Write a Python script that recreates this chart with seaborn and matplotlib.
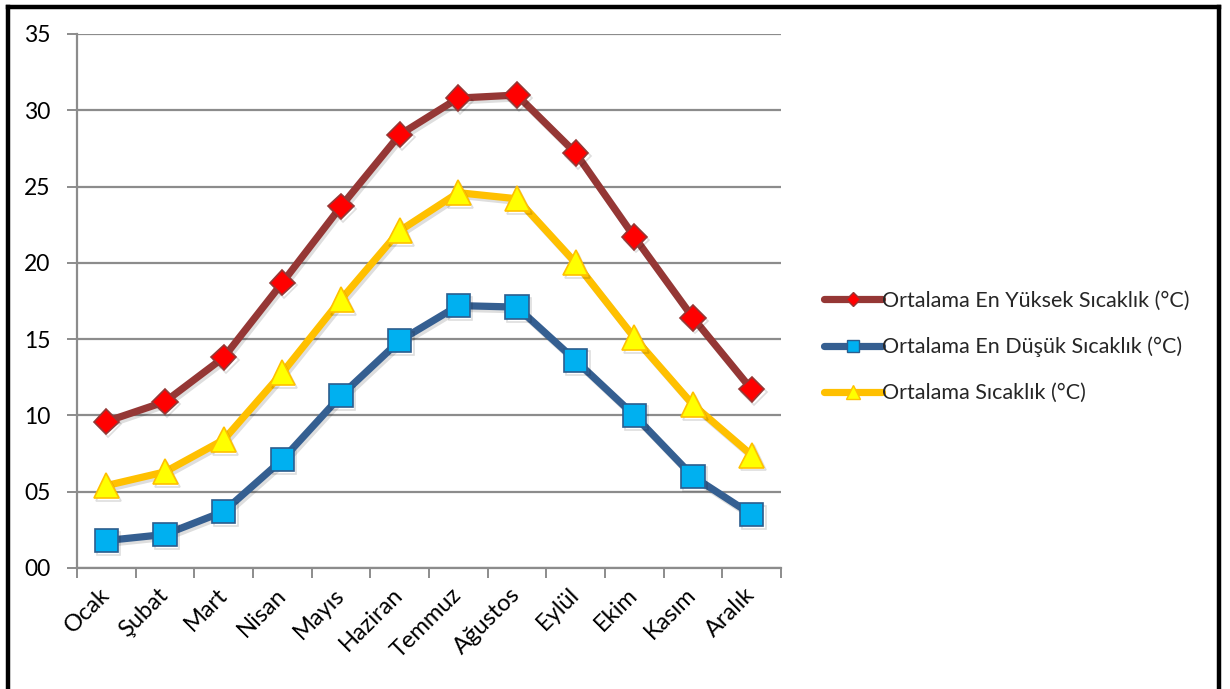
import matplotlib
matplotlib.use("Agg")
import matplotlib.pyplot as plt
import matplotlib.patheffects as pe
from matplotlib.lines import Line2D
import seaborn as sns
import numpy as np

months = ["Ocak", "Şubat", "Mart", "Nisan", "Mayıs", "Haziran",
          "Temmuz", "Ağustos", "Eylül", "Ekim", "Kasım", "Aralık"]
max_temp = [9.6, 10.9, 13.8, 18.7, 23.7, 28.4, 30.8, 31.0, 27.2, 21.7, 16.4, 11.7]
min_temp = [1.8, 2.2, 3.7, 7.1, 11.3, 14.9, 17.2, 17.1, 13.6, 10.0, 6.0, 3.5]
avg_temp = [5.4, 6.3, 8.4, 12.8, 17.6, 22.1, 24.6, 24.2, 20.0, 15.1, 10.7, 7.4]
series_labels = ["Ortalama En Yüksek Sıcaklık (°C)",
                 "Ortalama En Düşük Sıcaklık (°C)",
                 "Ortalama Sıcaklık (°C)"]
y_ticks = [0, 5, 10, 15, 20, 25, 30, 35]

sns.set_theme(style="white")
plt.rcParams["font.family"] = ["Lato", "DejaVu Sans"]

fig = plt.figure(figsize=(12.30, 6.89), dpi=100)
ax = fig.add_axes([77 / 1230, 1 - 568 / 689, (781 - 77) / 1230, (568 - 34) / 689])

x = np.arange(len(months))
styles = [
    dict(color="#953735", marker="D", mfc="#FF0000", mec="#953735", ms=13),
    dict(color="#355F91", marker="s", mfc="#00B0F0", mec="#2C5D8E", ms=17),
    dict(color="#FFC000", marker="^", mfc="#FFFF00", mec="#FFC000", ms=18),
]
shadow = [pe.SimpleLineShadow(offset=(1.5, -2), alpha=0.13, shadow_color="black"),
          pe.Normal()]
for vals, st in zip([max_temp, min_temp, avg_temp], styles):
    sns.lineplot(x=x, y=vals, ax=ax, color=st["color"], linewidth=5.2,
                 marker=st["marker"], markersize=st["ms"],
                 markerfacecolor=st["mfc"], markeredgecolor=st["mec"],
                 markeredgewidth=1.2, zorder=3, legend=False,
                 path_effects=shadow)

ax.set_xlim(-0.5, len(months) - 0.5)
ax.set_ylim(0, 35)
ax.set_yticks(y_ticks)
ax.set_yticklabels([f"{v:02d}" for v in y_ticks], fontsize=16.5, color="black")
ax.yaxis.grid(True, color="#8C8C8C", linewidth=1.6)
ax.set_axisbelow(True)

ax.set_xticks(x)
ax.set_xticklabels(months, rotation=45, ha="right", va="center",
                   rotation_mode="anchor", fontsize=17, color="black")
ax.set_xticks(np.arange(-0.5, len(months)), minor=True)
ax.tick_params(axis="x", which="major", length=0, pad=17)
ax.tick_params(axis="x", which="minor", length=7, width=1.4, color="#8C8C8C",
               direction="out", bottom=True)
ax.tick_params(axis="y", length=7, width=1.4, color="#8C8C8C", direction="out",
               left=True, pad=12)

for side in ["top", "right"]:
    ax.spines[side].set_visible(False)
for side in ["left", "bottom"]:
    ax.spines[side].set_color("#8C8C8C")
    ax.spines[side].set_linewidth(1.6)
ax.set_xlabel("")
ax.set_ylabel("")

handles = [Line2D([0], [0], color=st["color"], linewidth=5.2,
                  solid_capstyle="round", marker=st["marker"],
                  markersize=st["ms"] * 0.55, markerfacecolor=st["mfc"],
                  markeredgecolor=st["mec"], markeredgewidth=1)
           for st in styles]
fig.legend(handles, series_labels, loc="center left",
           bbox_to_anchor=(815 / 1230, 1 - 347 / 689), frameon=False,
           fontsize=15.5, handlelength=2.7, handletextpad=0.0,
           labelspacing=1.2, borderaxespad=0)

# frame around the figure (left, top, right)
for xs, ys in [([8 / 1230, 8 / 1230], [0, 1 - 7 / 689]),
               ([8 / 1230, 1219 / 1230], [1 - 7 / 689, 1 - 7 / 689]),
               ([1219 / 1230, 1219 / 1230], [1 - 7 / 689, 0])]:
    fig.add_artist(Line2D(xs, ys, color="black", linewidth=3.2,
                          solid_capstyle="projecting", transform=fig.transFigure))

fig.savefig("out.png", dpi=100, facecolor="white")
